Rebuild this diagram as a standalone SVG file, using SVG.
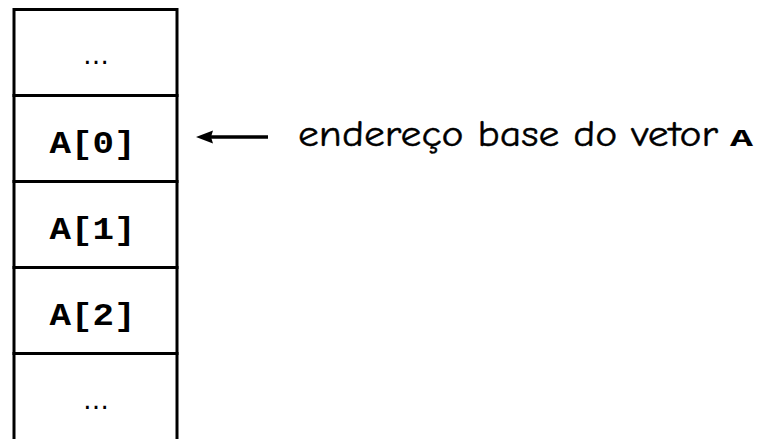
<svg xmlns="http://www.w3.org/2000/svg" width="758" height="439" viewBox="0 0 758 439">
<style>
.cell{fill:#fff;stroke:#000;stroke-width:3}
.mono{font-family:"Liberation Mono","Courier New",monospace;font-weight:bold;fill:#000}
.lbl{font-family:"Comic Sans MS","Comic Neue","DejaVu Sans",sans-serif;font-size:37px;fill:#000;stroke:#000;stroke-width:0.4}
.dots{font-family:"DejaVu Sans",sans-serif;font-size:26px;fill:#000}
</style>
<rect width="758" height="439" fill="#fff"/>
<g id="cell-top"><rect class="cell" x="14" y="9.5" width="163" height="86"/><text class="dots" x="96" y="64" text-anchor="middle">…</text></g>
<g id="cell-a0"><rect class="cell" x="14" y="95.5" width="163" height="86"/><text class="mono" x="92.5" y="153" font-size="31" text-anchor="middle" textLength="86" lengthAdjust="spacingAndGlyphs">A[0]</text></g>
<g id="cell-a1"><rect class="cell" x="14" y="181.5" width="163" height="86"/><text class="mono" x="92.5" y="239" font-size="31" text-anchor="middle" textLength="86" lengthAdjust="spacingAndGlyphs">A[1]</text></g>
<g id="cell-a2"><rect class="cell" x="14" y="267.5" width="163" height="86"/><text class="mono" x="92.5" y="325" font-size="31" text-anchor="middle" textLength="86" lengthAdjust="spacingAndGlyphs">A[2]</text></g>
<g id="cell-bottom"><rect class="cell" x="14" y="353.5" width="163" height="90"/><text class="dots" x="96" y="409" text-anchor="middle">…</text></g>
<g id="connectors">
<line x1="268" y1="137" x2="208" y2="137" stroke="#000" stroke-width="3.5"/>
<path d="M196,137 L213,130.5 L211,137 L213,143.5 Z" fill="#000"/>
</g>
<g id="label">
<text class="lbl" x="298" y="146" textLength="420" lengthAdjust="spacingAndGlyphs">endereço base do vetor</text>
<text class="mono" x="730" y="146" font-size="24" textLength="23" lengthAdjust="spacingAndGlyphs">A</text>
</g>
</svg>
